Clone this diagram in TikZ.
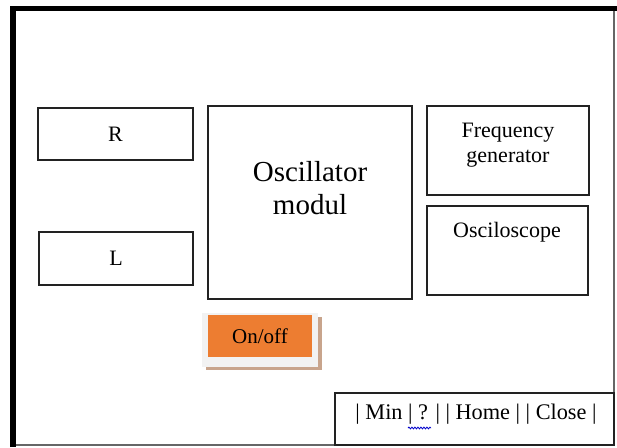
\documentclass[tikz,border=0pt]{standalone}
\usepackage{fontspec}
\setmainfont{Liberation Serif}
\usetikzlibrary{decorations.pathmorphing}
\definecolor{btnorange}{HTML}{ED7D31}
\definecolor{btnshadow}{HTML}{C8A48C}
\definecolor{btnface}{HTML}{F2F2F2}
\definecolor{edge}{HTML}{222222}
\begin{document}
\begin{tikzpicture}[x=1pt,y=-1pt,
  box/.style={draw=edge, line width=1.4pt, rectangle, inner sep=0pt},
  lbl/.style={inner sep=0pt, align=center}]
\useasboundingbox (0,0) rectangle (617,447);
\fill[white] (0,0) rectangle (617,447);
% outer frame
\coordinate (fa) at (13,445);
\coordinate (fb) at (13,8.5);
\coordinate (fc) at (617,8.5);
\coordinate (fd) at (614,8.5);
\coordinate (fe) at (614,445);
\draw[draw=gray!80!black, line width=1.4pt] (fd) -- (fe) -- (fa);
\draw[line width=6pt] (13,447) -- (13,6);
\draw[line width=5pt] (10,8.5) -- (fc);
% boxes
\node[box, minimum width=155pt, minimum height=52pt] (r) at (115.5,134) {};
\node[lbl, font=\fontsize{22}{25}\selectfont] (rt) at (r.center) {R};
\node[box, minimum width=154pt, minimum height=53pt] (l) at (116,258.5) {};
\node[lbl, font=\fontsize{22}{25}\selectfont] (lt) at (l.center) {L};
\node[box, minimum width=204pt, minimum height=193pt] (osc) at (310,202.5) {};
\node[lbl, font=\fontsize{29}{33}\selectfont] (osct) at (310,188) {Oscillator\\modul};
\node[box, minimum width=162pt, minimum height=89pt] (fg) at (508,150.5) {};
\node[lbl, font=\fontsize{22}{25}\selectfont] (fgt) at (508,145) {Frequency\\generator};
\node[box, minimum width=161pt, minimum height=89pt] (os) at (507.5,250.5) {};
\node[lbl, font=\fontsize{22}{25}\selectfont] (ost) at (507,232) {Osciloscope};
% on/off button
\fill[btnshadow] (206,317) rectangle (322,370);
\fill[btnface] (202,313) rectangle (318,367);
\node[fill=btnorange, minimum width=104pt, minimum height=42pt, inner sep=0pt, font=\fontsize{21}{24}\selectfont] (onoff) at (260,336) {On/off};
% menu bar
\node[draw=edge, fill=white, line width=1.4pt, minimum width=279pt, minimum height=52pt, inner sep=0pt] (menu) at (474.5,419) {};
\node[lbl, font=\fontsize{22.3}{25}\selectfont] (menut) at (476,414) {| Min | ? | | Home | | Close |};
\coordinate (w1) at (408,428);
\coordinate (w2) at (431,428);
\draw[blue!80!black, line width=0.8pt, decorate, decoration={snake, segment length=3pt, amplitude=0.9pt}] (w1) -- (w2);
\end{tikzpicture}
\end{document}
